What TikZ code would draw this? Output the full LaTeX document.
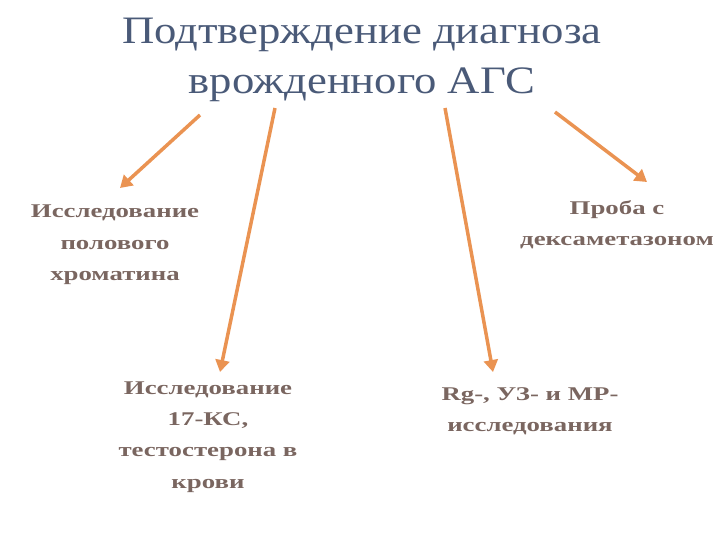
\documentclass[tikz,border=0pt]{standalone}
\usepackage{fontspec}
\setmainfont{Liberation Serif}
\newfontfamily\titlefont[FakeStretch=1.15]{Liberation Serif}
\newfontfamily\lblfont[FakeStretch=1.38]{Liberation Serif}
\usetikzlibrary{arrows.meta}
\definecolor{titlec}{HTML}{4A5A78}
\definecolor{txtc}{HTML}{7A6660}
\definecolor{arr}{HTML}{EA9352}
\tikzset{
  lbl/.style={align=center, font=\lblfont\bfseries\fontsize{19.5}{31.5}\selectfont, text=txtc, inner sep=0pt},
  arrline/.style={draw=arr, line width=3.5pt, -{Triangle[length=12pt,width=14pt]}}
}
\begin{document}
\begin{tikzpicture}[x=1bp,y=-1bp]
\useasboundingbox (0,0) rectangle (720,540);
\node[align=center, font=\titlefont\fontsize{39}{50}\selectfont, text=titlec, inner sep=0pt] (title) at (362,60) {Подтверждение диагноза\\врожденного АГС};
\coordinate (s1) at (200,115); \coordinate (s2) at (275,108);
\coordinate (s3) at (445,108); \coordinate (s4) at (555,112);
\node[lbl] (a) at (115,245) {Исследование\\полового\\хроматина};
\node[lbl] (b) at (617,225) {Проба с\\дексаметазоном};
\node[lbl] (c) at (208,437) {Исследование\\17-КС,\\тестостерона в\\крови};
\node[lbl] (d) at (530,411) {Rg-, УЗ- и МР-\\исследования};
\coordinate (e1) at (120,188); \coordinate (e2) at (220,372);
\coordinate (e3) at (493,372); \coordinate (e4) at (647,182);
\draw[arrline] (s1) -- (e1);
\draw[arrline] (s2) -- (e2);
\draw[arrline] (s3) -- (e3);
\draw[arrline] (s4) -- (e4);
\end{tikzpicture}
\end{document}
